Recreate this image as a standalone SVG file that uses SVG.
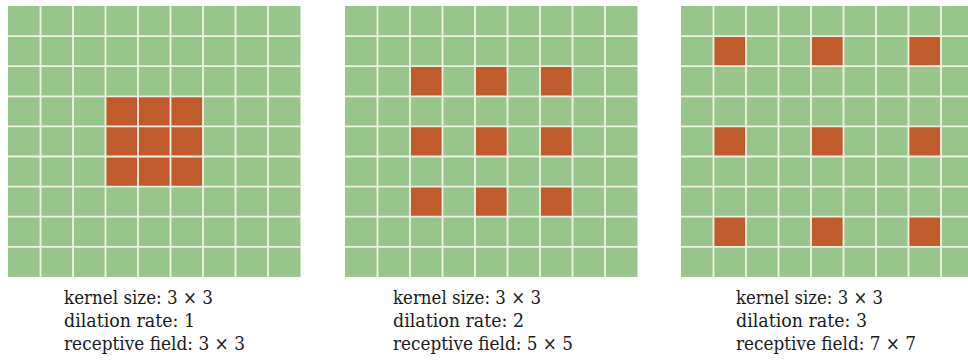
<svg xmlns="http://www.w3.org/2000/svg" xmlns:xlink="http://www.w3.org/1999/xlink" width="968" height="361" viewBox="0 0 968 361">
<style>
.bg{fill:#98c58c}
.k{fill:#c05b2d}
.gl{stroke:#eef2e2;stroke-width:1.8;fill:none}
.t{font-family:"DejaVu Serif","Liberation Serif",serif;font-size:18px;fill:#1a1a1a}
</style>
<defs>
<path id="lines" class="gl" d="M32.5 0V270.9M65 0V270.9M97.5 0V270.9M130 0V270.9M162.5 0V270.9M195 0V270.9M227.5 0V270.9M260 0V270.9M0 30.1H292.5M0 60.2H292.5M0 90.3H292.5M0 120.4H292.5M0 150.5H292.5M0 180.6H292.5M0 210.7H292.5M0 240.8H292.5"/>
</defs>
<rect width="968" height="361" fill="#ffffff"/>
<g id="panel1" transform="translate(8,6)">
<rect class="bg" width="292.5" height="270.9"/>
<rect class="k" x="97.5" y="90.3" width="97.5" height="90.3"/>
<use xlink:href="#lines" href="#lines"/>
</g>
<g id="panel2" transform="translate(345,6)">
<rect class="bg" width="292.5" height="270.9"/>
<rect class="k" x="65" y="60.2" width="32.5" height="30.1"/>
<rect class="k" x="130" y="60.2" width="32.5" height="30.1"/>
<rect class="k" x="195" y="60.2" width="32.5" height="30.1"/>
<rect class="k" x="65" y="120.4" width="32.5" height="30.1"/>
<rect class="k" x="130" y="120.4" width="32.5" height="30.1"/>
<rect class="k" x="195" y="120.4" width="32.5" height="30.1"/>
<rect class="k" x="65" y="180.6" width="32.5" height="30.1"/>
<rect class="k" x="130" y="180.6" width="32.5" height="30.1"/>
<rect class="k" x="195" y="180.6" width="32.5" height="30.1"/>
<use xlink:href="#lines" href="#lines"/>
</g>
<g id="panel3" transform="translate(681,6)">
<rect class="bg" width="292.5" height="270.9"/>
<rect class="k" x="32.5" y="30.1" width="32.5" height="30.1"/>
<rect class="k" x="130" y="30.1" width="32.5" height="30.1"/>
<rect class="k" x="227.5" y="30.1" width="32.5" height="30.1"/>
<rect class="k" x="32.5" y="120.4" width="32.5" height="30.1"/>
<rect class="k" x="130" y="120.4" width="32.5" height="30.1"/>
<rect class="k" x="227.5" y="120.4" width="32.5" height="30.1"/>
<rect class="k" x="32.5" y="210.7" width="32.5" height="30.1"/>
<rect class="k" x="130" y="210.7" width="32.5" height="30.1"/>
<rect class="k" x="227.5" y="210.7" width="32.5" height="30.1"/>
<use xlink:href="#lines" href="#lines"/>
</g>
<g id="label1" class="t">
<text x="64" y="304" textLength="149" lengthAdjust="spacingAndGlyphs">kernel size: 3 × 3</text>
<text x="64" y="327" textLength="131" lengthAdjust="spacingAndGlyphs">dilation rate: 1</text>
<text x="64" y="350" textLength="181" lengthAdjust="spacingAndGlyphs">receptive field: 3 × 3</text>
</g>
<g id="label2" class="t">
<text x="393" y="304" textLength="148" lengthAdjust="spacingAndGlyphs">kernel size: 3 × 3</text>
<text x="393" y="327" textLength="131" lengthAdjust="spacingAndGlyphs">dilation rate: 2</text>
<text x="393" y="350" textLength="180" lengthAdjust="spacingAndGlyphs">receptive field: 5 × 5</text>
</g>
<g id="label3" class="t">
<text x="736" y="304" textLength="147" lengthAdjust="spacingAndGlyphs">kernel size: 3 × 3</text>
<text x="736" y="327" textLength="131" lengthAdjust="spacingAndGlyphs">dilation rate: 3</text>
<text x="736" y="350" textLength="180" lengthAdjust="spacingAndGlyphs">receptive field: 7 × 7</text>
</g>
</svg>
